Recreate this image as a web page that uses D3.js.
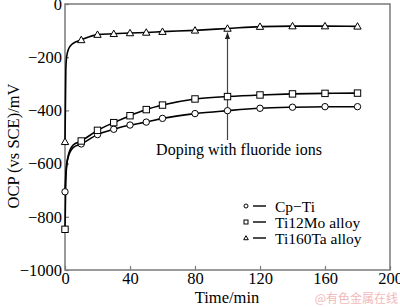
<!DOCTYPE html>
<html>
<head>
<meta charset="utf-8">
<script src="https://cdn.jsdelivr.net/npm/d3@7"></script>
<style>
  body { margin: 0; background: #fff; }
  svg { display: block; font-family: "Liberation Serif", "Times New Roman", serif; }
</style>
</head>
<body>
<svg width="400" height="307"></svg>
<script>
// время, мин (маркеры только на части точек)
const times    = [0, 0.5, 1, 2, 3, 5, 10, 20, 30, 40, 50, 60, 80, 100, 120, 140, 160, 180];
const markTimes = [0, 10, 20, 30, 40, 50, 60, 80, 100, 120, 140, 160, 180];

const cpTi   = [-706, -640, -605, -575, -558, -540, -526, -491, -471, -455, -444, -430, -412, -401, -392, -388, -386, -386];
const ti12Mo = [-847, -660, -610, -570, -550, -530, -515, -475, -446, -420, -397, -380, -357, -348, -342, -338, -336, -335];
const ti160Ta = [-518, -250, -200, -172, -160, -148, -135, -115, -112, -109, -107, -104, -99, -92, -85, -83, -83, -84];

const seriesNames = ["Cp-Ti", "Ti12Mo alloy", "Ti160Ta alloy"];
const seriesShapes = ["circle", "square", "triangle"];

const xTicks = [0, 40, 80, 120, 160, 200];
const yTicks = [0, -200, -400, -600, -800, -1000];

const arrowTime = 100;
const annotation = "Doping with fluoride ions";

const svg = d3.select("svg");

const area = { left: 65, right: 390, top: 4, bottom: 270 };
const gray = "#7a7a7a";

const scX = d3.scaleLinear().domain([0, 200]).range([area.left, area.right]);
const scY = d3.scaleLinear().domain([-1000, 0]).range([area.bottom, area.top]);

// рамка
svg.append("rect")
    .attr("x", area.left).attr("y", area.top)
    .attr("width", area.right - area.left).attr("height", area.bottom - area.top)
    .attr("fill", "none").attr("stroke", gray).attr("stroke-width", 1.5);

// оси
const fmt = d => d < 0 ? "\u2212" + Math.abs(d) : String(d);

const gx = svg.append("g")
    .attr("transform", `translate(0, ${area.bottom})`)
    .call(d3.axisBottom(scX).tickValues(xTicks).tickSize(-4).tickPadding(2).tickFormat(fmt));
const gy = svg.append("g")
    .attr("transform", `translate(${area.left}, 0)`)
    .call(d3.axisLeft(scY).tickValues(yTicks).tickSize(-4).tickPadding(3).tickFormat(fmt));

[gx, gy].forEach(g => {
    g.select(".domain").remove();
    g.selectAll(".tick line").attr("stroke", gray).attr("stroke-width", 1.2);
    g.selectAll(".tick text").attr("fill", "#000").style("font-size", "16.5px")
        .style("font-family", "'Liberation Serif', serif");
});

// подписи осей
svg.append("text")
    .attr("x", 227).attr("y", 303)
    .attr("text-anchor", "middle").style("font-size", "16.5px")
    .text("Time/min");

svg.append("text")
    .attr("transform", `translate(19, 146) rotate(-90)`)
    .attr("text-anchor", "middle").style("font-size", "16.5px")
    .text("OCP (vs SCE)/mV");

// маркеры
function drawMarker(g, shape, x, y, s) {
    if (shape === "circle") {
        g.append("circle").attr("cx", x).attr("cy", y).attr("r", s)
            .attr("fill", "#fff").attr("stroke", "#000").attr("stroke-width", 1);
    } else if (shape === "square") {
        g.append("rect").attr("x", x - s).attr("y", y - s)
            .attr("width", 2 * s).attr("height", 2 * s)
            .attr("fill", "#fff").attr("stroke", "#000").attr("stroke-width", 1);
    } else {
        const h = s * 1.15;
        g.append("path")
            .attr("d", `M${x},${y - h} L${x + h},${y + h * 0.75} L${x - h},${y + h * 0.75} Z`)
            .attr("fill", "#fff").attr("stroke", "#000").attr("stroke-width", 1);
    }
}

const allSeries = [cpTi, ti12Mo, ti160Ta];

const line = d3.line()
    .x(d => scX(d[0]))
    .y(d => scY(d[1]))
    .curve(d3.curveMonotoneX);

allSeries.forEach((vals, i) => {
    const pts = times.map((t, j) => [t, vals[j]]);
    svg.append("path")
        .datum(pts)
        .attr("d", line)
        .attr("fill", "none")
        .attr("stroke", "#000")
        .attr("stroke-width", 1.6);
});

// стрелка
const idx = times.indexOf(arrowTime);
svg.append("defs").append("marker")
    .attr("id", "arr").attr("viewBox", "0 0 10 10")
    .attr("refX", 10).attr("refY", 5)
    .attr("markerWidth", 7).attr("markerHeight", 7)
    .attr("markerUnits", "userSpaceOnUse")
    .attr("orient", "auto")
    .append("path").attr("d", "M0,1 L10,5 L0,9 Z").attr("fill", "#222");

svg.append("line")
    .attr("x1", scX(arrowTime)).attr("x2", scX(arrowTime))
    .attr("y1", 140).attr("y2", scY(ti160Ta[idx]) + 4)
    .attr("stroke", "#444").attr("stroke-width", 1.2)
    .attr("marker-end", "url(#arr)");

svg.append("text")
    .attr("x", 239).attr("y", 155)
    .attr("text-anchor", "middle").style("font-size", "16px")
    .text(annotation);

// маркеры поверх линий
allSeries.forEach((vals, i) => {
    const g = svg.append("g");
    times.forEach((t, j) => {
        if (markTimes.includes(t)) drawMarker(g, seriesShapes[i], scX(t), scY(vals[j]), 3.2);
    });
});

// легенда
const legY = [210, 226, 242];
seriesNames.forEach((name, i) => {
    const g = svg.append("g");
    drawMarker(g, seriesShapes[i], 246, legY[i] - 4, 2);
    g.append("line")
        .attr("x1", 253).attr("x2", 266)
        .attr("y1", legY[i] - 4).attr("y2", legY[i] - 4)
        .attr("stroke", "#000").attr("stroke-width", 1.4);
    g.append("text")
        .attr("x", 275).attr("y", legY[i] + 1.5)
        .style("font-size", "15.5px")
        .text(name.replace("-", "\u2212"));
});

// водяной знак
svg.append("text")
    .attr("x", 398).attr("y", 303)
    .attr("text-anchor", "end")
    .style("font-size", "12px")
    .style("font-family", "'Noto Sans CJK SC', sans-serif")
    .attr("fill", "#f2b8b8")
    .text("@有色金属在线");
</script>
</body>
</html>
